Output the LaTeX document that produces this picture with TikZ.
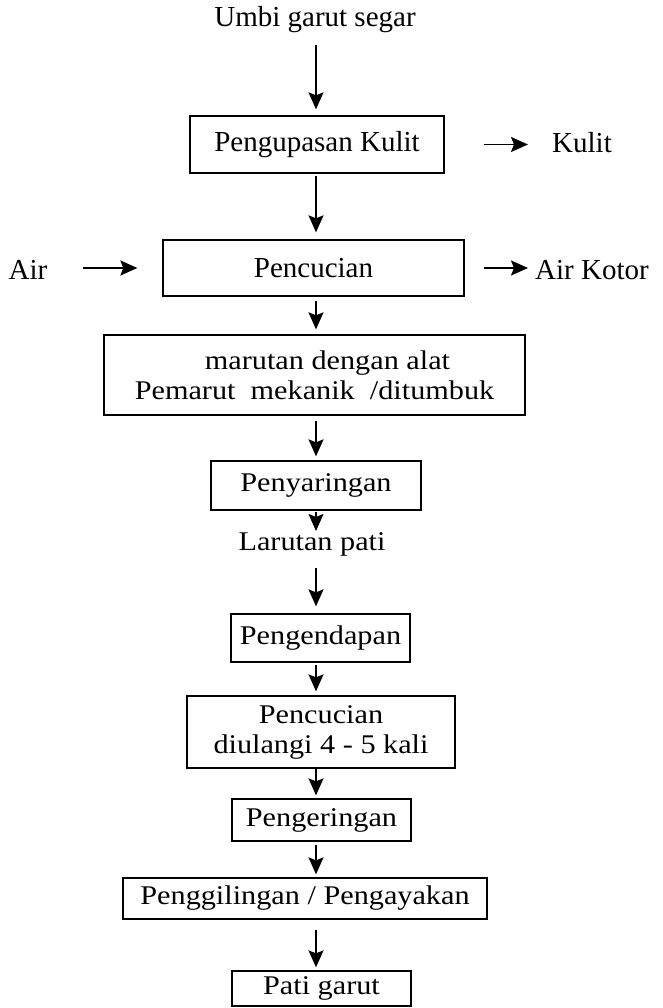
\documentclass[tikz,border=0pt]{standalone}
\usepackage{fontspec}
\setmainfont{Liberation Serif}
\newfontfamily\schoolfont[FakeStretch=1.12]{Liberation Serif}
\usetikzlibrary{arrows.meta, calc, positioning}
\def\axisx{316}
\tikzstyle{stage}=[draw, line width=1.3pt, inner sep=0pt, align=center]
\tikzstyle{times text}=[font=\fontsize{29}{33}\selectfont, inner sep=0pt]
\tikzstyle{school text}=[font=\schoolfont\fontsize{27}{30}\selectfont, inner sep=0pt, align=center]
\tikzstyle{flow}=[-{Stealth[length=17pt,width=15pt,inset=3pt]}, line width=1.7pt]

\begin{document}
\begin{tikzpicture}[x=1pt, y=-1pt]
		\useasboundingbox (0,0) rectangle (662,1008);
		\coordinate (axis) at (\axisx,0);
		% upper part
		\node[times text] (umbi) at (315,20) {Umbi garut segar};
		\node[stage, times text, minimum width=254pt, minimum height=57pt] (kupas) at (317,144.5) {Pengupasan Kulit};
		\node[times text] (kulit) at (582,143) {Kulit};
		\node[stage, times text, minimum width=301pt, minimum height=56pt] (cuci) at (313.5,268) {Pencucian};
		\node[times text] (air) at (28,270) {Air};
		\node[times text, anchor=west] (kotor) at (535,270) {Air Kotor};
		% lower part
		\node[stage, school text, minimum width=421pt, minimum height=80pt] (parut) at (314.5,375) {\hspace*{26pt}marutan dengan alat\\Pemarut\ \ mekanik\ \ /ditumbuk};
		\node[stage, school text, minimum width=210pt, minimum height=49pt] (saring) at (316,485.5) {Penyaringan};
		\node[school text] (larutan) at (312,544) {Larutan pati};
		\node[stage, school text, minimum width=179pt, minimum height=48pt] (endap) at (320.5,638) {Pengendapan};
		\node[stage, school text, minimum width=268pt, minimum height=72pt] (ulang) at (321,732) {Pencucian\\diulangi 4 - 5 kali};
		\node[stage, school text, minimum width=179pt, minimum height=42pt] (kering) at (321.5,820) {Pengeringan};
		\node[stage, school text, minimum width=364pt, minimum height=41pt] (giling) at (305,898.5) {Penggilingan / Pengayakan};
		\node[stage, school text, minimum width=179pt, minimum height=35pt] (pati) at (321.5,988.5) {Pati garut};
		\path
		(umbi.south -| axis) edge[flow, shorten <=12pt, shorten >=6pt] (kupas.north -| axis)
		(kupas.south -| axis) edge[flow, shorten <=2pt, shorten >=7pt] (cuci.north -| axis)
		(cuci.south -| axis) edge[flow, shorten <=4pt, shorten >=5pt] (parut.north -| axis)
		(parut.south -| axis) edge[flow, shorten <=5pt, shorten >=4pt] (saring.north -| axis)
		(saring.south -| axis) edge[flow, shorten <=1pt, shorten >=1pt] (larutan.north -| axis)
		(larutan.south -| axis) edge[flow, shorten <=12pt, shorten >=7pt] (endap.north -| axis)
		(endap.south -| axis) edge[flow, shorten <=2pt, shorten >=4pt] (ulang.north -| axis)
		(ulang.south -| axis) edge[flow, shorten >=3pt] (kering.north -| axis)
		(kering.south -| axis) edge[flow, shorten <=3pt, shorten >=3pt] (giling.north -| axis)
		(giling.south -| axis) edge[flow, shorten <=10pt, shorten >=3pt] (pati.north -| axis);
		% side streams
		\path
		(kupas.east) edge[flow, shorten <=39pt, shorten >=24pt] (kupas.east -| kulit.west)
		(air.east |- cuci.west) edge[flow, shorten <=35pt, shorten >=25pt] (cuci.west)
		(cuci.east) edge[flow, shorten <=19pt, shorten >=7pt] (cuci.east -| kotor.west);
	\end{tikzpicture}
\end{document}
